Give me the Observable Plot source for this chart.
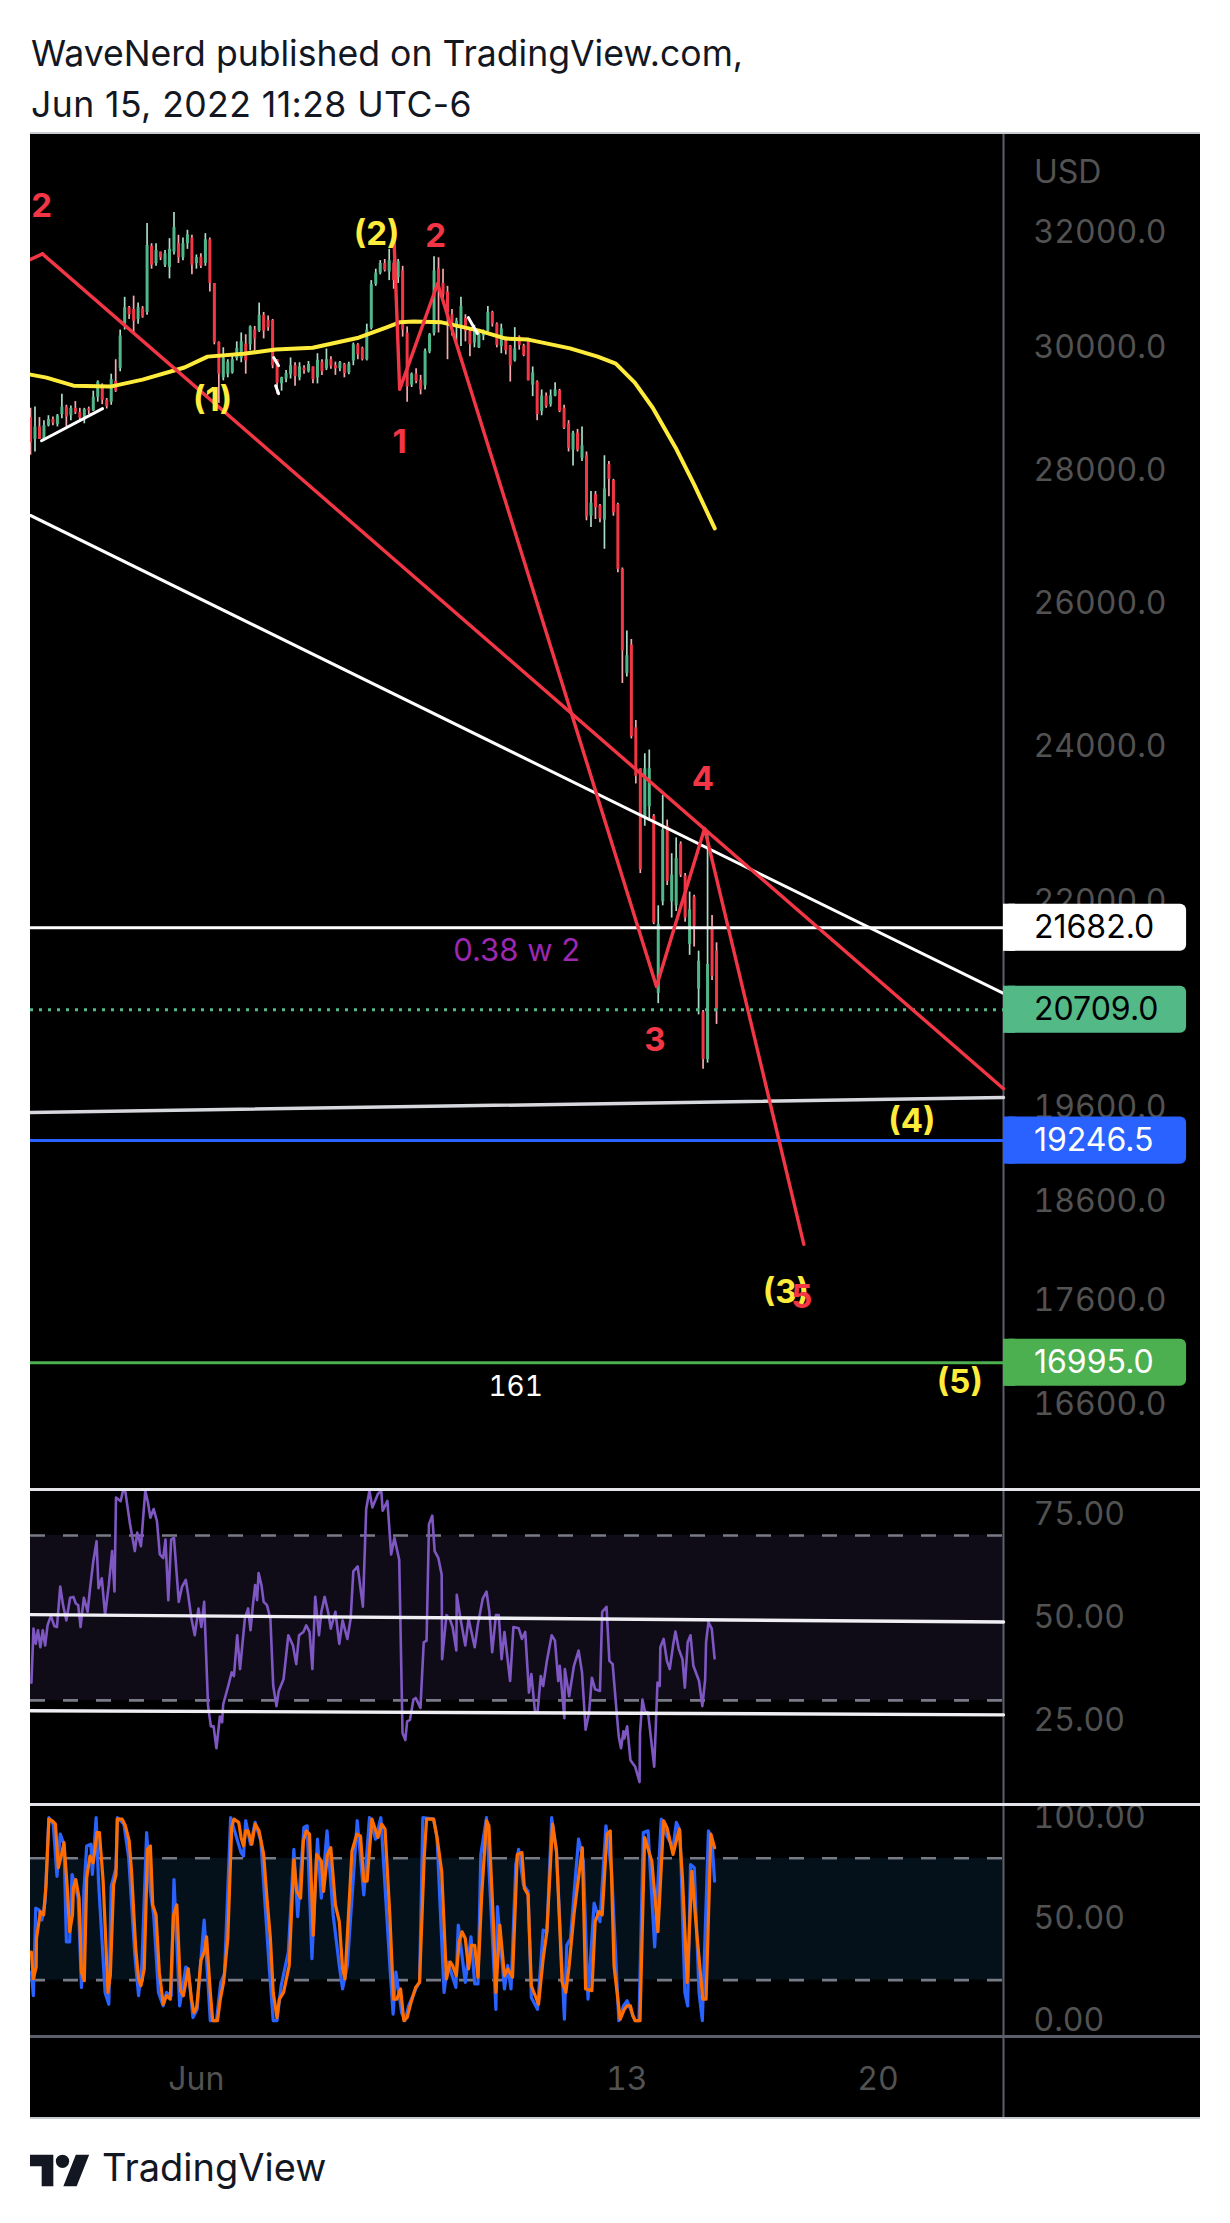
<!DOCTYPE html>
<html><head><meta charset="utf-8">
<script src="https://cdn.jsdelivr.net/npm/d3@7"></script>
<script src="https://cdn.jsdelivr.net/npm/@observablehq/plot@0.6"></script>
<style>
html,body{margin:0;padding:0;background:#fff;font-family:Inter,sans-serif}
#page{position:relative;width:1230px;height:2223px;overflow:hidden}
.abs{position:absolute}
.abs svg{display:block}
#title{left:31px;top:28px;font-size:35.6px;line-height:51px;color:#131722;white-space:nowrap}
#title span{letter-spacing:.42px}
#brand{left:102px;top:2143px;font-size:38px;line-height:48px;color:#131722}
</style></head><body><div id="page"></div>
<script>
// candles: one every 3 hours from 27 May 09:00
const candleOpen=[28850,28500,28700,28500,28720,28820,28740,28900,29020,28880,29000,28930,28850,28990,28960,29180,29330,29130,29100,29440,29650,30400,30680,30650,30480,30660,30600,31750,31450,31650,31420,31380,31650,31800,31550,31800,31900,31450,31560,31450,31870,31100,30090,29500,29560,29580,29820,29820,30060,30050,30300,30280,30550,30460,30460,29800,29400,29480,29550,29700,29500,29660,29600,29680,29500,29760,29650,29800,29700,29650,29720,29580,29780,30050,29990,29800,30330,31080,31280,31450,31300,31450,31200,31320,30250,29380,29560,29460,29370,29930,30240,31360,31100,30950,30560,30350,30350,30500,30280,30080,30000,30200,30280,30600,30400,30020,30120,30030,29780,30180,30030,30120,29380,29430,28950,29200,29060,29200,29290,29000,28750,28330,28600,28200,28240,27300,27630,27460,27240,28100,27850,27480,26500,25000,25400,24250,23700,23060,23200,23080,20900,22000,22950,22000,21950,22720,22320,21480,22060,20950,20680,20140,21700,21400];
const candleHigh=[29000,29020,28850,28800,28880,28860,28900,29230,29050,29040,29110,29000,29000,29020,29280,29450,29400,29160,29560,29800,30300,30860,30700,30880,30760,30700,32160,31800,31800,31650,31680,31890,32360,31950,31900,32040,31950,31600,31620,31980,31900,31100,30100,30000,29800,29900,30100,30250,30220,30370,30360,30760,30600,30540,30480,29800,29510,29620,29830,29750,29750,29700,29770,29680,29900,29800,29980,29850,29760,29770,29740,29760,30080,30070,30010,30400,31150,31350,31500,31520,31700,31500,31520,31400,30350,29580,29650,29540,29980,30240,31570,31550,31350,31050,30650,30500,30860,30560,30300,30380,30280,30300,30700,30620,30420,30400,30180,30040,30340,30200,30060,30160,29680,29450,29300,29250,29300,29420,29310,29050,28800,28630,28660,28700,28300,27680,27680,27480,28240,28150,27870,27500,26520,25600,25480,24350,23700,23900,23950,23100,21950,23350,23030,22600,22800,22750,22350,22120,22080,21400,20700,22880,21830,21500];
const candleLow=[28250,28300,28500,28480,28700,28720,28700,28830,28700,28800,28900,28780,28750,28900,28950,29100,29060,28990,29050,29260,29600,30300,30480,30250,30400,30500,30550,31350,31400,31500,31380,31180,31600,31450,31500,31700,31250,31350,31360,31400,30950,30050,29080,29450,29500,29560,29780,29750,29560,29950,29950,30260,30150,30280,29650,29230,29280,29420,29480,29360,29450,29560,29580,29400,29400,29540,29620,29640,29540,29600,29500,29550,29700,29800,29780,29780,30300,31050,31250,31300,31150,31000,31100,30180,29100,29340,29400,29220,29300,29900,30200,30250,30800,29800,30200,30100,30020,30100,29850,30000,29990,30120,30260,30350,30000,29900,29880,29430,29760,29960,29850,29450,29190,28800,28880,29000,29020,29190,28930,28660,28300,28080,28300,28150,27230,27130,27250,27200,26800,27600,27300,26450,24860,24950,24100,23500,22350,22950,23020,21720,20780,21950,22200,21800,21880,22300,21750,21350,21450,20650,20030,20100,21050,20540];
const candleClose=[28450,28700,28500,28720,28820,28760,28880,29020,28860,29000,28930,28840,28980,28960,29180,29430,29130,29030,29470,29280,30200,30680,30560,30450,30680,30520,31770,31420,31680,31550,31620,31700,32090,31550,31800,31960,31420,31550,31400,31870,31100,30090,29560,29830,29760,29800,29990,30100,29780,30350,30150,30550,30280,30340,29700,29410,29500,29570,29700,29520,29680,29620,29720,29470,29790,29600,29800,29690,29650,29750,29570,29730,30050,29880,29800,30300,31080,31280,31450,31330,31500,31150,31480,30300,29350,29560,29440,29300,29940,30220,31320,31090,30900,30600,30350,30450,30700,30280,30050,30280,30220,30280,30600,30400,30040,30320,29950,29700,29980,30040,29870,29450,29580,28900,29200,29030,29200,29300,28950,28680,28360,28600,28330,28400,27290,27500,27430,27260,27720,27870,27350,26500,25320,25250,24130,23600,22400,23700,23700,21740,21720,22900,22250,22330,22540,22330,21800,21900,21700,21280,20140,21240,21100,20709];
// moving average
const maHours=[0,10.7,28.8,53.5,75,103,118.5,142.6,164,188.8,219.5,238.3,247,256.4,275,300,318,333,361,379.5,391.6,404.3,416.3,431.7,443.8,457.8];
const maPrice=[29553,29503,29370,29355,29470,29670,29852,29900,29970,30000,30170,30345,30430,30445,30430,30290,30155,30138,29990,29852,29735,29420,29010,28365,27800,27115];
// wave drawings
const waveLeftHours=[0,8], waveLeftPrice=[31520,31620];
const waveHours=[243,247,272.4,418.8,451,517.4], wavePrice=[32036,29310,31100,20980,22922,18160];
const trendRedHours=[8,651], trendRedPrice=[31620,19814];
const trendWhiteHours=[0,651], trendWhitePrice=[27312,20899];
const trendGreyHours=[0,651], trendGreyPrice=[19552,19716];
const miniLines=[[[7.4,48.2],[28479,28995]],[[162.7,166],[29835,29700]],[[164,166],[29370,29240]],[[293,299],[30510,30240]]];
const priceTicks=[32000,30000,28000,26000,24000,22000,19600,18600,17600,16600];
const tagValues=[21682,20709,19246.5,16995], tagFills=["#ffffff","#53b987","#2962ff","#4caf50"], tagInk=["#000000","#000000","#ffffff","#ffffff"];
const levelLines=[21682,19246.5,16995], levelColors=["#ffffff","#2962ff","#4caf50"];
const lastPrice=20709;
const redLabels=["2","2","1","4","3","5"], redLabelHours=[7.4,271,247,449.8,417.7,516], redLabelPrice=[32470,31930,28447,23560,20355,17626];
const yellowLabels=["(2)","(1)","(4)","(3)","(5)"], yellowLabelHours=[231.6,121.8,589.7,505.4,621.8], yellowLabelPrice=[31965,29125,19453,17676,16806];
// RSI
const rsiHours=[0.6,2,3.5,5,6.6,8.2,9.8,11.4,13.6,16,17.7,19.9,21.8,24,26.5,28.7,30.3,31.9,33.5,35.7,38.2,39.8,42,44.2,45.5,47.7,49.9,52.4,54.6,56.2,57.2,60.3,61.9,63.5,66.6,69.8,71.4,73.9,76.8,78.6,80.2,82.4,84.6,86.5,88.8,90.3,92.2,94.1,96,99.2,101.4,103.9,105.5,107.7,109.9,112.4,114.3,116.2,118.8,120.7,122.5,124.4,126.7,128.2,128.9,132.3,134.6,136.1,138.3,140.2,143.4,145.6,147.2,148.8,150.3,151.6,152.6,154.5,156,158.2,160.5,162.4,164.6,166.1,169.3,172.5,175.6,177.8,179.7,182.6,184.5,186.7,188.6,190.5,193,194.6,196.8,199.3,200.9,204,206.6,208.8,212,214.2,216,218.9,222.4,224.6,226.8,228.7,232.5,234.7,235.6,238.8,241.3,243.5,246.7,248.9,250.8,252,253.9,256.2,257.7,260.9,263.1,265,266.6,268.8,270.4,272.9,275.1,275.4,278.3,280.5,282.4,284.9,285.2,287.7,290.9,293.1,297.2,299.4,302.6,305.1,307,308.9,311.4,313.3,315.2,317.1,320.9,323.1,326.6,328.8,331,333.5,335.1,337.6,339.2,341.4,343,345.5,348.7,350.9,353.1,354.1,357.2,357.5,360.4,363.6,366.7,369,371.4,373.7,375.6,377.8,381,382.5,385.4,387.3,389.5,392,393.6,395.1,396.7,397.3,399.2,401.4,404.6,407.5,407.8,409.4,411,413.2,417.3,419.5,421,421.4,423.6,425.8,427.7,429.9,431.5,433.7,436.2,437.8,439.7,441.6,443.5,447.3,449.5,451.4,452,453.6,455.8,457.7];
const rsiValues=[34.3,47.4,43.7,47,42.9,47,43.3,48.2,50.5,48,47.8,57.6,53.1,49.4,54.9,55.1,53.5,53.1,47.8,54.9,51.5,57,63.7,68.6,57.2,59.6,50.7,58,66.2,56.4,79.2,78.3,80.9,80.5,72.7,66.2,70.7,67.4,80.9,78,74.3,76.4,73.5,65.4,64.5,69,54.3,69,69.4,53.9,57.6,59.2,55.6,49.8,45.8,52.3,47.8,53.9,28.6,23.7,23.7,18.4,26.1,24.7,29,33.5,36.8,35.9,45.8,37.6,49.8,52.3,47,53.1,58,54.3,60.9,58,53.9,53.1,49.8,33.5,28.6,32.3,35.1,45.8,43.3,38.8,45.8,46.6,48.2,46.6,37.6,55.1,45.8,51.5,55.1,51.1,47.4,51.5,43.7,49.4,44.9,49.8,61.3,62.5,52.7,76.4,80.9,76.8,80.1,80.9,76,78.4,65.4,69.4,64.1,22.1,20.4,24.9,25.3,30.2,30.6,28.2,44.1,44.5,72.7,74.8,66.2,64.5,60.5,40,50.7,49.8,47.8,42.1,55.6,49.8,43.3,49.8,42.9,48.6,54.7,56.4,51.5,41.7,50.7,50.7,40,46.6,34.7,47.8,47.5,44.9,46.6,31.9,36.4,27,27,35.9,33.5,39.6,45.8,44.5,34.7,38.4,25.7,37.6,31,38.4,42.1,36.8,22.9,27,35.5,32.7,32.3,51.5,52.7,39.6,38.8,27.8,21.2,18.4,22.5,20.8,23.7,15.5,13.9,10.2,22.1,30.2,27.4,27,13.9,34.3,33.5,42.9,44.9,39.6,37.6,43.3,46.7,42.5,40,33.1,44.1,45.8,38.4,34.7,28.6,35.1,44.1,49,47.4,40.2];
const rsiTicks=[75,50,25], rsiBand=[30,70];
const rsiUpperHours=[0,651], rsiUpperValues=[50.8,49.0];
const rsiLowerHours=[0,651], rsiLowerValues=[27.5,26.5];
// Stochastic
const kHours=[0.6,1.9,3.5,5.7,7.6,9.8,12.3,15.2,17.7,19.9,22.4,24,26.2,27.8,31.9,34.1,35.7,37.6,40.4,41.4,43.9,45.5,49.9,52.4,54,57.2,58.1,62.5,65.7,69.8,72.3,74.5,77.7,80.2,82.4,85.6,88.8,91,94.1,96,99.8,103.9,105.5,108.7,111.5,114,116.2,120.3,124.4,127.3,129.8,133.9,140.9,142.5,144,147.2,150.3,154.1,159.8,162.4,164.9,167.7,172.5,176.2,178.8,182.9,185.1,188.3,192,194.6,198.4,202.5,206.6,208.8,212,218.6,223,226.8,230.9,234.4,240.4,242.6,244.5,248.3,250.5,253,257.7,260.3,262.5,269.7,272,276.7,279.2,284.6,286.2,290.9,294.7,297.2,299.4,301.3,305.1,311.4,312.4,317.1,319.3,321.5,324.7,326.6,329.8,332.9,335.1,339.2,343,345.5,348.7,351.9,357.2,358.8,361.3,363.6,366.7,369.9,373,377.1,381,385,388.8,393.6,396.7,399.2,404.6,407.1,410,413.2,417.6,422,425.1,429.9,432.1,434.6,437.8,439.7,441.6,444.1,447.3,449.5,453.6,455.8,457.7];
const kValues=[23.9,12.3,55.4,54.6,49.6,58.7,100,96.8,71.1,91.9,86.9,38.8,38.8,72,60.4,16.4,63.7,86.1,86.9,72,100,68.7,13.9,8.1,66.2,75.3,100,96.8,80.3,32.2,12.3,27.2,92.7,63.7,52.1,13.9,7.3,13.9,12.3,69.5,7.3,26.4,25.5,1.5,5.6,29.7,49.6,0,0,18.9,23.1,100,82.8,81.1,98.5,86.9,97.7,88.6,25.5,0,0,17.2,33.8,84.4,51.2,95.2,96,30.5,89.4,60.4,93.5,52.1,27.2,15.6,27.2,98.5,62,100,89.4,100,27.2,3.2,23.9,4,0,7.3,15.6,18.9,100,99.3,90.2,13.9,28.9,16.4,47.1,18.9,41.3,18.1,18.1,81.9,100,5.6,56.2,15.6,27.2,15.6,76.9,84.4,67,63.7,11.4,5.6,44.6,43.8,100,83.6,0.7,37.1,40.5,62,89.4,78.6,10.6,57.9,48.8,96,73.6,0,7.3,9.8,0,0,92.7,93.5,36.3,99.3,91.9,85.2,97.7,93.5,13.9,7.3,76.9,75.3,13.9,0,93.5,90.2,68.7];
const dHours=[0.6,1.9,3.8,4,6.6,8.8,10.4,12.3,14.5,16.7,18.6,20.8,22.4,24.6,26.2,28.1,28.7,30.3,32.5,34.1,36,37.6,39.8,42,44.5,46.1,48.6,49.9,51.8,53.4,55.6,57.2,58.1,61.3,63.5,66,67.6,70.4,72.3,73.9,76.1,78.3,80.2,81.8,84,86.2,88.8,91,93.5,95.7,97.9,100.4,102.3,105.5,107.7,109.3,111.2,114,116.2,117.8,120.3,121.9,125.1,127,129.2,132,134.6,136.1,139.3,140.9,142.5,144,145.6,148.1,150.3,152.9,156,158.2,160.5,162.4,164.9,166.5,169.3,173.1,176.2,178.1,180.7,182.6,184.5,186.7,189.2,191.4,194.6,196.1,198.7,200.9,204,206.6,208.8,210.4,215.1,218.3,220.8,223,225.2,228.4,232.5,235,237.2,240.4,242.9,245.1,247.6,249.8,252,254.6,257.7,260.3,263.4,265,269.7,272,275.1,278.3,280.8,282.4,284.9,286.8,288.7,290.9,293.1,295,297.2,299.4,301.9,305.1,306.7,309.8,311.4,314,317.1,319.3,322.5,325.7,328.8,330.4,332.9,335.1,339.9,343,345.5,349.3,351.9,355.7,358.2,360.4,363.6,365.8,369.2,371.4,375.6,377.8,380.3,382.5,385.7,387.9,390.4,394.5,397.3,399.2,401.4,403,404.6,407.8,410.9,415.7,419.8,423.6,425.8,429.9,434,436.2,439.4,442.5,445.7,449.8,452,455.2,457.7];
const dValues=[33.8,20.6,26.4,40.5,53.7,52.1,67,99.3,98.5,96.8,75.3,81.9,87.7,65.3,43.8,52.1,65.3,69.5,60.4,23.9,19.7,70.3,81.1,77.8,92.7,92.7,68.7,47.1,13.9,22.2,67,72,99.3,99.3,96,88.6,73.6,35.5,20.6,17.2,25.5,84.4,86.1,57,52.1,23.9,8.1,12.3,10.6,52.1,57,14.8,12.3,25.5,10.6,4,6.5,29.7,33.8,41.3,13.9,0,0,10.6,18.9,40.5,95.2,99.3,97.7,90.2,86.1,93.5,93.5,86.9,96.8,93.5,81.9,60.4,40.5,13.9,1.5,10.6,13.9,27.2,79.4,63.7,60.4,88.6,93.5,91.9,42.1,81.9,78.6,63.7,81.9,85.2,57,48.8,25.5,20.6,83.6,91.9,91,68.7,68.7,99.3,90.2,96.8,94.4,52.1,10.6,10.6,15.6,0,1.5,9,16.4,18.9,80.3,99.3,99.3,90.2,73.6,20.6,28.9,27.2,22.2,38.8,43.8,40.5,25.5,37.1,37.1,21.4,62,98.5,96,47.1,13.9,47.1,22.2,25.5,21.4,81.9,82.8,65.3,62,17.2,8.1,30.5,43.8,96.8,83.6,18.9,13.9,27.2,52.1,65.3,85.2,15.6,14.8,48.8,53.7,52.1,91.9,93.5,27.2,0.7,5.6,7.3,7.3,2.3,0,0,90.2,78.6,43.8,98.5,95.2,81.9,94.4,70.3,18.9,73.6,43.8,10.6,10.6,91.9,85.2];
const stochTicks=[100,50,0], stochBand=[20,80];
const xTicks=[111,399,567], xLabels=["Jun","13","20"];

const t=h=>new Date(Date.UTC(2022,4,27,9)+h*36e5);
const pts=(hs,vs)=>hs.map((h,i)=>({x:t(h),y:vs[i]}));
const END=651, TAGEND=773.5, LABELX=671.4;
const AXIS="#5d606b", TICK="#525252", FONT="Inter, sans-serif", RED="#f23645", YEL="#ffeb3b";
const base={width:1170,marginLeft:0,marginRight:197,marginTop:0,marginBottom:0,
  style:{background:"#000",fontFamily:FONT},
  x:{type:"utc",domain:[t(0),t(END)],axis:null}};
const yAxis=(ticks,fmt)=>Plot.axisY(ticks,{anchor:"right",tickSize:0,tickPadding:30,tickFormat:fmt,fontSize:32,fill:TICK,label:null,fontFamily:FONT});

const candles=candleOpen.map((o,i)=>({x:t(3*i),o,h:candleHigh[i],l:candleLow[i],c:candleClose[i]}));
const ups=candles.filter(d=>d.c>=d.o), downs=candles.filter(d=>d.c<d.o);
const line=(hs,vs,stroke,w,extra={})=>Plot.line(pts(hs,vs),{x:"x",y:"y",stroke,strokeWidth:w,...extra});
const labels=(txt,hs,vs,fill,size,weight)=>Plot.text(txt.map((s,i)=>({s,x:t(hs[i]),y:vs[i]})),{x:"x",y:"y",text:"s",fill,fontSize:size,fontWeight:weight,fontFamily:FONT});

const LOGH=0.0132;
const tagMarks=tagValues.flatMap((v,i)=>{const row=[{v}];return [
  Plot.rect(row,{x1:()=>t(END),x2:()=>t(TAGEND),y1:d=>d.v*Math.exp(-LOGH),y2:d=>d.v*Math.exp(LOGH),fill:tagFills[i],rx:6}),
  Plot.rect(row,{x1:()=>t(END),x2:()=>t(END+8),y1:d=>d.v*Math.exp(-LOGH),y2:d=>d.v*Math.exp(LOGH),fill:tagFills[i]}),
  Plot.text(row,{x:()=>t(LABELX),y:"v",text:d=>d.v.toFixed(1),textAnchor:"start",fill:tagInk[i],fontSize:32,fontFamily:FONT})];});

const pricePlot=Plot.plot({...base,height:1355,
  y:{type:"log",domain:[15840,33824],axis:null},
  marks:[
    Plot.ruleX([t(END)],{stroke:AXIS,strokeWidth:2}),
    yAxis(priceTicks,d=>d.toFixed(1)),
    Plot.text(["USD"],{x:()=>t(LABELX),y:()=>33097,text:d=>d,textAnchor:"start",fill:TICK,fontSize:32,fontFamily:FONT}),
    Plot.ruleX(ups,{x:"x",y1:"l",y2:"h",stroke:"#a9dcc6",strokeWidth:1.7}),
    Plot.ruleX(downs,{x:"x",y1:"l",y2:"h",stroke:"#f7a8ae",strokeWidth:1.7}),
    Plot.ruleX(ups,{x:"x",y1:"o",y2:"c",stroke:"#4fb78a",strokeWidth:3}),
    Plot.ruleX(downs,{x:"x",y1:"o",y2:"c",stroke:"#f23645",strokeWidth:3}),
    line(maHours,maPrice,YEL,4),
    ...miniLines.map(([h,p])=>line(h,p,"#ffffff",3)),
    line(trendWhiteHours,trendWhitePrice,"#ffffff",3),
    line(trendGreyHours,trendGreyPrice,"#d6d8de",3.5),
    ...levelLines.map((v,i)=>Plot.ruleY([v],{x1:()=>t(0),x2:()=>t(END),stroke:levelColors[i],strokeWidth:3})),
    Plot.ruleY([lastPrice],{x1:()=>t(0),x2:()=>t(END),stroke:"#53b987",strokeWidth:3,strokeDasharray:"3 6"}),
    line(waveLeftHours,waveLeftPrice,RED,3.4),
    line(trendRedHours,trendRedPrice,RED,3.4),
    line(waveHours,wavePrice,RED,3.4),
    labels(yellowLabels,yellowLabelHours,yellowLabelPrice,YEL,33,700),
    labels(redLabels,redLabelHours,redLabelPrice,RED,33,700),
    Plot.text(["161"],{x:()=>t(324.6),y:()=>16768,text:d=>d,fill:"#ffffff",fontSize:28,fontVariant:"tabular-nums",fontFamily:FONT}),
    Plot.text(["0.38 w 2"],{x:()=>t(325.3),y:()=>21395,text:d=>d,fill:"#9c27b0",fontSize:31,fontFamily:FONT}),
    ...tagMarks
  ]});

const rsiPlot=Plot.plot({...base,height:313,
  y:{domain:[5.0,80.9],axis:null},
  marks:[
    Plot.rectY([rsiBand],{x1:()=>t(0),x2:()=>t(END),y1:d=>d[0],y2:d=>d[1],fill:"#0f0c18"}),
    Plot.ruleX([t(END)],{stroke:AXIS,strokeWidth:2}),
    yAxis(rsiTicks,d=>d.toFixed(2)),
    ...rsiBand.map(v=>Plot.ruleY([v],{x1:()=>t(0),x2:()=>t(END),stroke:"#787b86",strokeWidth:2.6,strokeDasharray:"15 18"})),
    line(rsiHours,rsiValues,"#7e57c2",2.6,{clip:true}),
    line(rsiUpperHours,rsiUpperValues,"#f0f0f4",3.4),
    line(rsiLowerHours,rsiLowerValues,"#f0f0f4",3.4)
  ]});

const stochPlot=Plot.plot({...base,height:230,
  y:{domain:[-7.3,106],axis:null},
  marks:[
    Plot.rectY([stochBand],{x1:()=>t(0),x2:()=>t(END),y1:d=>d[0],y2:d=>d[1],fill:"#04111a"}),
    Plot.ruleX([t(END)],{stroke:AXIS,strokeWidth:2}),
    yAxis(stochTicks,d=>d.toFixed(2)),
    ...stochBand.map(v=>Plot.ruleY([v],{x1:()=>t(0),x2:()=>t(END),stroke:"#787b86",strokeWidth:2.6,strokeDasharray:"15 18"})),
    line(kHours,kValues,"#2962ff",3.2,{clip:true}),
    line(dHours,dValues,"#ff6d00",3.2,{clip:true})
  ]});

const timePlot=Plot.plot({...base,height:81,
  x:{type:"utc",domain:[t(0),t(END)]},
  y:{domain:[0,1],axis:null},
  marks:[
    Plot.ruleX([t(END)],{stroke:AXIS,strokeWidth:2}),
    Plot.axisX(xTicks.map(t),{anchor:"bottom",tickSize:0,tickPadding:-51,tickFormat:(d,i)=>xLabels[i],fontSize:32,fill:TICK,label:null,fontFamily:FONT})
  ]});

const page=document.getElementById("page");
const place=(el,left,top,id)=>{const d=document.createElement("div");d.className="abs";d.style.left=left+"px";d.style.top=top+"px";if(id)d.id=id;d.appendChild(el);page.appendChild(d);return d;};
place(pricePlot,30,133);
place(rsiPlot,30,1490);
place(stochPlot,30,1805);
place(timePlot,30,2037);
const bar=(top,h,c,left=30,w=1170)=>{const d=document.createElement("div");d.className="abs";d.style.cssText=`left:${left}px;top:${top}px;width:${w}px;height:${h}px;background:${c}`;page.appendChild(d);};
bar(1488,2.5,"#e3e5ea");bar(1803,2.5,"#e3e5ea");bar(2035,2.5,AXIS);bar(132,1.5,"#c8cad2");bar(2117,1.5,"#c8cad2");
const ttl=document.createElement("div");ttl.className="abs";ttl.id="title";ttl.innerHTML="WaveNerd published on TradingView.com,<br><span>Jun 15, 2022 11:28 UTC-6</span>";page.appendChild(ttl);
const br=document.createElement("div");br.className="abs";br.id="brand";br.textContent="TradingView";page.appendChild(br);
const logo=document.createElement("div");logo.className="abs";logo.style.cssText="left:30px;top:2153px;width:60px;height:34px";
logo.innerHTML='<svg viewBox="0 0 36 20.4" width="60" height="34" style="display:block"><path fill="#131722" d="M14 20H7V8H0V1h14v19zM28 20h-8l7.5-19h8L28 20z"/><circle fill="#131722" cx="19.5" cy="5" r="4"/></svg>';
page.appendChild(logo);
</script></body></html>
